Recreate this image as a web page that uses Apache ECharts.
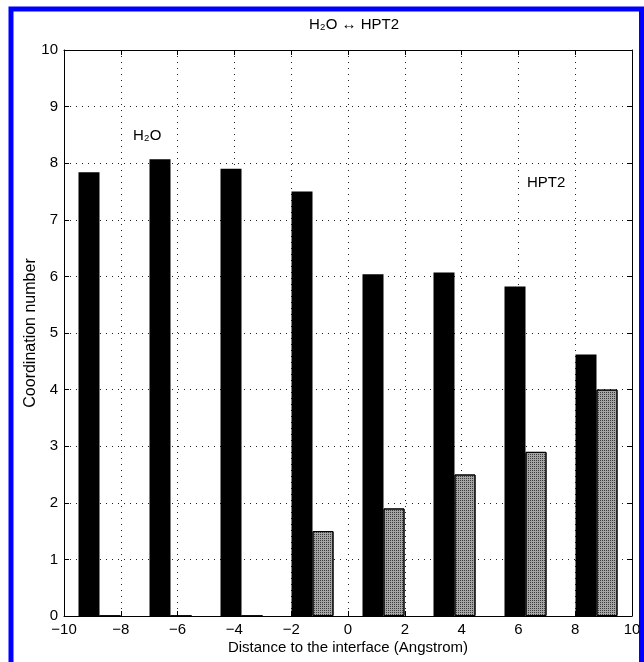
<!DOCTYPE html>
<html>
<head>
<meta charset="utf-8">
<script src="https://cdn.jsdelivr.net/npm/echarts@6/dist/echarts.min.js"></script>
<style>
html,body{margin:0;padding:0;background:#fff;}
#chart{width:644px;height:662px;}
</style>
</head>
<body>
<div id="chart"></div>
<script>
// Group centers (Angstrom)
const groupCenters = [-8.75, -6.25, -3.75, -1.25, 1.25, 3.75, 6.25, 8.75];
// Coordination numbers: H2O (black) and HPT2 (stippled)
const waterValues = [7.84, 8.07, 7.90, 7.50, 6.04, 6.07, 5.82, 4.62];
const hptValues   = [0, 0, 0, 1.50, 1.90, 2.50, 2.90, 4.00];
const xTicks = [-10, -8, -6, -4, -2, 0, 2, 4, 6, 8, 10];
const yTicks = [0, 1, 2, 3, 4, 5, 6, 7, 8, 9, 10];

const FONT = 'Liberation Sans, Arial, Helvetica, sans-serif';
const minus = v => String(v).replace('-', '\u2212');

const chart = echarts.init(document.getElementById('chart'), null, {renderer: 'canvas'});

const gridLine = {show: true, lineStyle: {color: '#222', type: [1, 5], width: 1}};
const tickStyle = {show: true, inside: true, length: 5, lineStyle: {color: '#000', width: 1}};

chart.setOption({
  animation: false,
  backgroundColor: '#fff',
  title: {
    text: 'H\u2082O \u2194 HPT2',
    left: 349, top: 12, textAlign: 'center',
    textStyle: {fontFamily: FONT, fontSize: 15, fontWeight: 'normal', color: '#000'}
  },
  grid: {left: 64, right: 12, top: 50, bottom: 46, containLabel: false},
  xAxis: [{
    type: 'value', min: xTicks[0], max: xTicks[xTicks.length - 1], interval: 2,
    position: 'bottom',
    axisLine: {show: true, onZero: false, lineStyle: {color: '#000', width: 1}},
    axisTick: tickStyle,
    splitLine: gridLine,
    axisLabel: {color: '#000', fontFamily: FONT, fontSize: 15, margin: 6, formatter: minus},
    name: 'Distance to the interface (Angstrom)', nameLocation: 'middle', nameGap: 24,
    nameMoveOverlap: false,
    nameTextStyle: {color: '#000', fontFamily: FONT, fontSize: 15}
  }, {
    type: 'value', min: xTicks[0], max: xTicks[xTicks.length - 1], interval: 2,
    position: 'top',
    axisLine: {show: true, onZero: false, lineStyle: {color: '#000', width: 1}},
    axisTick: tickStyle, splitLine: {show: false}, axisLabel: {show: false}
  }],
  yAxis: [{
    type: 'value', min: yTicks[0], max: yTicks[yTicks.length - 1], interval: 1,
    position: 'left',
    axisLine: {show: true, onZero: false, lineStyle: {color: '#000', width: 1}},
    axisTick: tickStyle,
    splitLine: gridLine,
    axisLabel: {color: '#000', fontFamily: FONT, fontSize: 15, margin: 6},
    name: 'Coordination number', nameLocation: 'middle', nameGap: 25, nameRotate: 90,
    nameMoveOverlap: false,
    nameTextStyle: {color: '#000', fontFamily: FONT, fontSize: 16}
  }, {
    type: 'value', min: yTicks[0], max: yTicks[yTicks.length - 1], interval: 1,
    position: 'right',
    axisLine: {show: true, onZero: false, lineStyle: {color: '#000', width: 1}},
    axisTick: tickStyle, splitLine: {show: false}, axisLabel: {show: false}
  }],
  series: [{
    type: 'bar', name: 'H2O', xAxisIndex: 0, yAxisIndex: 0,
    data: groupCenters.map((x, i) => [x, waterValues[i]]),
    barWidth: 21, barGap: '0%',
    itemStyle: {color: '#000', borderColor: '#000', borderWidth: 0}
  }, {
    type: 'bar', name: 'HPT2', xAxisIndex: 0, yAxisIndex: 0,
    data: groupCenters.map((x, i) => [x, hptValues[i]]),
    barWidth: 21, barGap: '0%',
    itemStyle: {
      color: '#a4a4a4', borderColor: '#000', borderWidth: 1,
      decal: {symbol: 'rect', symbolSize: 1, dashArrayX: [1, 1], dashArrayY: [1, 1], color: '#3c3c3c', rotation: 0}
    }
  }],
  graphic: [{
    type: 'rect', silent: true, z: 100,
    shape: {x: 11, y: 9, width: 630.5, height: 670},
    style: {fill: 'none', stroke: '#0000ff', lineWidth: 5}
  }, {
    type: 'text', left: 133, top: 128, z: 100,
    style: {text: 'H\u2082O', fontFamily: FONT, fontSize: 15, fill: '#000'}
  }, {
    type: 'text', left: 527, top: 175, z: 100,
    style: {text: 'HPT2', fontFamily: FONT, fontSize: 15, fill: '#000'}
  }]
});
</script>
</body>
</html>
